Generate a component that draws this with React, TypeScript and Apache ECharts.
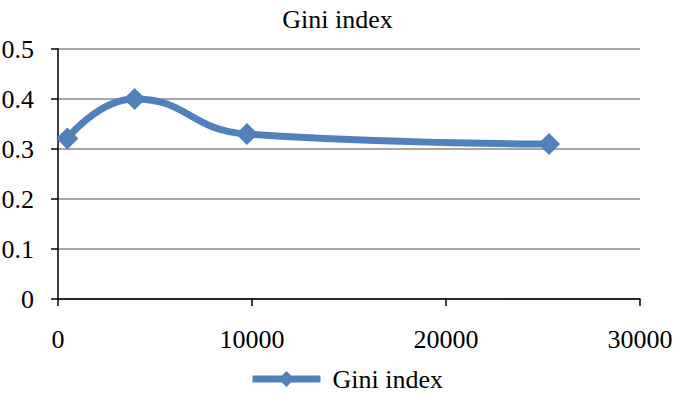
import React, { useEffect, useRef } from "react";
import * as echarts from "echarts";

const seriesName = "Gini index";
const xValues = [480, 3950, 9740, 25310];
const giniValues = [0.321, 0.4, 0.33, 0.31];

export default function App() {
  const ref = useRef<HTMLDivElement>(null);
  useEffect(() => {
    const chart = echarts.init(ref.current!, null, { renderer: "svg" });
    const font = "'Liberation Serif'";
    chart.setOption({
      animation: false,
      backgroundColor: "#ffffff",
      textStyle: { fontFamily: font },
      title: {
        text: "Gini index",
        left: "center",
        top: 1,
        textStyle: { fontFamily: font, fontSize: 26, fontWeight: "normal", color: "#000" },
      },
      legend: {
        bottom: -1,
        left: 244,
        itemWidth: 68,
        itemHeight: 20,
        itemGap: 10,
        textStyle: { fontFamily: font, fontSize: 26, color: "#000", padding: [0, 0, 0, 7] },
        data: [{ name: seriesName, itemStyle: { color: "#4f81bd" }, lineStyle: { width: 7, color: "#4f81bd" } }],
      },
      grid: { left: 58, right: 35, top: 49, bottom: 97, outerBoundsMode: "none", containLabel: false },
      xAxis: {
        type: "value",
        min: 0,
        max: 30000,
        interval: 10000,
        axisLine: { show: true, lineStyle: { color: "#000", width: 1.5 } },
        axisTick: { show: true, length: 7, lineStyle: { color: "#000", width: 1.5 } },
        axisLabel: { margin: 27, fontFamily: font, fontSize: 26, color: "#000", formatter: (v: number) => String(v) },
        splitLine: { show: false },
      },
      yAxis: {
        type: "value",
        min: 0,
        max: 0.5,
        interval: 0.1,
        axisLine: { show: true, lineStyle: { color: "#000", width: 1.5 } },
        axisTick: { show: true, length: 7, lineStyle: { color: "#000", width: 1.5 } },
        axisLabel: { margin: 24, fontFamily: font, fontSize: 26, color: "#000", formatter: (v: number) => String(v) },
        splitLine: { show: true, lineStyle: { color: "#888888", width: 1.5 } },
      },
      series: [
        {
          name: seriesName,
          type: "line",
          smooth: 0.5,
          data: xValues.map((x, i) => [x, giniValues[i]]),
          symbol: "diamond",
          symbolSize: 22,
          lineStyle: { color: "#4f81bd", width: 7 },
          itemStyle: { color: "#4f81bd" },
        },
      ],
    });
    return () => chart.dispose();
  }, []);
  return <div ref={ref} style={{ width: 675, height: 396, position: "absolute", left: 0, top: 0 }} />;
}
